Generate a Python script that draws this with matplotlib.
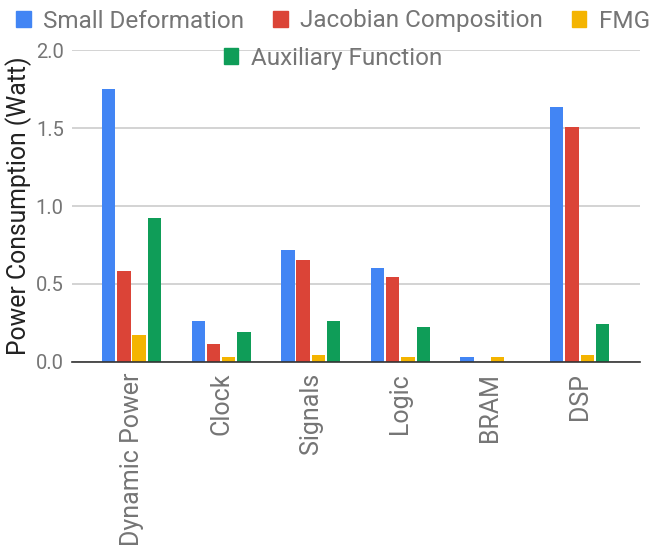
import matplotlib

matplotlib.use('Agg')
import matplotlib.pyplot as plt
from matplotlib.patches import Patch
import numpy as np

plt.rcParams['font.family'] = ['Roboto', 'DejaVu Sans']

# ----- data --------------------------------------------------------------
categories = ['Dynamic Power', 'Clock', 'Signals', 'Logic', 'BRAM', 'DSP']
series_names = ['Small Deformation', 'Jacobian Composition', 'FMG',
                'Auxiliary Function']
small_def = [1.75, 0.263, 0.716, 0.60, 0.03, 1.635]
jacobian = [0.58, 0.112, 0.654, 0.546, 0.0, 1.51]
fmg = [0.172, 0.03, 0.041, 0.03, 0.03, 0.041]
auxiliary = [0.923, 0.19, 0.263, 0.226, 0.0, 0.245]
yticks = [0.0, 0.5, 1.0, 1.5, 2.0]
# -------------------------------------------------------------------------

COLORS = ['#4285F4', '#DB4437', '#F4B400', '#0F9D58']
PITCH = 0.17
WIDTH = 0.15

fig = plt.figure(figsize=(6.49, 5.45), dpi=100)
ax = fig.add_axes([0.111, 0.336, 0.875, 0.572])

x = np.arange(len(categories))
for i, (vals, color) in enumerate(zip([small_def, jacobian, fmg, auxiliary], COLORS)):
    ax.bar(x + (i - 1.5) * PITCH, vals, WIDTH, color=color, zorder=3)

ax.set_xlim(-0.664, 5.673)
ax.set_ylim(0, 2.0)
ax.set_yticks(yticks)
ax.set_yticklabels([f'{t:.1f}' for t in yticks], fontsize=14.5, color='#757575')
ax.set_xticks(x)
ax.set_xticklabels(categories, rotation=90, fontsize=18, color='#757575')
ax.tick_params(length=0, pad=8)
ax.tick_params(axis='y', pad=6)
ax.grid(axis='y', color='#cccccc', lw=1.2, zorder=0)
for side in ['top', 'right', 'left']:
    ax.spines[side].set_visible(False)
ax.spines['bottom'].set_color('#333333')
ax.spines['bottom'].set_linewidth(1.2)
ax.spines['bottom'].set_zorder(4)
ax.set_ylabel('Power Consumption (Watt)', fontsize=17.8, color='#222222',
              labelpad=3)

handles = [Patch(color=c) for c in COLORS]
leg_kw = dict(frameon=False, fontsize=17.5, labelcolor='#757575',
              handlelength=0.6, handleheight=0.6, handletextpad=0.5,
              columnspacing=1.2, borderpad=0, loc='center')
fig.legend(handles[:3], series_names[:3], ncol=3,
           bbox_to_anchor=(0.513, 1 - 21 / 545), **leg_kw)
fig.legend(handles[3:], series_names[3:], ncol=1,
           bbox_to_anchor=(0.513, 1 - 58 / 545), **leg_kw)

fig.savefig('out.png', dpi=100)
